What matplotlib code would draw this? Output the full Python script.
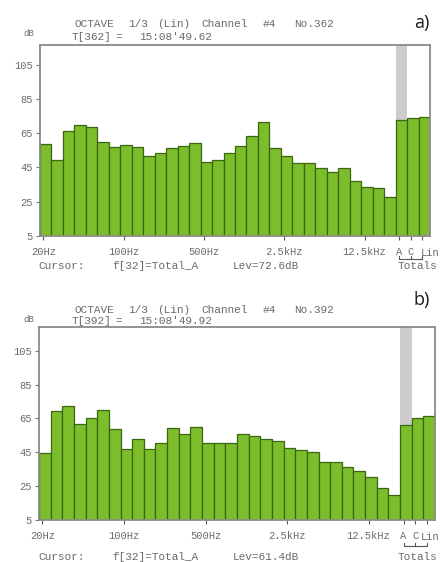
import matplotlib
matplotlib.use("Agg")
import matplotlib.pyplot as plt
import numpy as np

# ------------------------------------------
# DATOS
# ------------------------------------------
bandas = ['20Hz', '25Hz', '31.5Hz', '40Hz', '50Hz', '63Hz', '80Hz', '100Hz', '125Hz',
          '160Hz', '200Hz', '250Hz', '315Hz', '400Hz', '500Hz', '630Hz', '800Hz',
          '1kHz', '1.25kHz', '1.6kHz', '2kHz', '2.5kHz', '3.15kHz', '4kHz', '5kHz',
          '6.3kHz', '8kHz', '10kHz', '12.5kHz', '16kHz', '20kHz', 'A', 'C', 'Lin']

niveles_a = [58.5, 49.3, 66.4, 69.7, 68.4, 59.6, 57.1, 58.0, 57.1, 51.6, 53.6, 56.1,
             57.5, 59.0, 48.3, 49.3, 53.6, 57.5, 63.3, 71.6, 56.1, 51.6, 47.4, 47.4,
             44.5, 42.5, 44.8, 37.1, 33.4, 32.8, 27.9, 72.6, 73.6, 74.6]

niveles_b = [44.4, 69.6, 72.5, 61.8, 65.2, 70.0, 58.6, 46.8, 52.9, 46.8, 50.4, 59.2,
             55.9, 59.8, 50.4, 50.4, 50.4, 55.7, 54.7, 52.7, 51.7, 47.8, 46.4, 45.4,
             39.1, 39.1, 36.2, 34.2, 30.6, 23.7, 19.8, 61.4, 65.2, 66.5]

ticks_x = ['20Hz', '100Hz', '500Hz', '2.5kHz', '12.5kHz', 'A', 'C', 'Lin']
ticks_y = [5, 25, 45, 65, 85, 105]

paneles = [
    dict(letra='a)', numero='362', hora="15:08'49.62", lev='72.6', valores=niveles_a),
    dict(letra='b)', numero='392', hora="15:08'49.92", lev='61.4', valores=niveles_b),
]

# ------------------------------------------
# FIGURA
# ------------------------------------------
W, H = 440, 562
fig = plt.figure(figsize=(W / 100, H / 100), dpi=100)

VERDE = '#7cbd2b'
BORDE = '#3a6610'
GRIS = '#6a6a6a'
MONO = 'Liberation Mono'

# posiciones en pixeles: (izq, der, arriba, abajo, techo_dB)
cajas = [(40, 430, 45, 236, 116.4), (39, 435, 327, 520, 119.0)]


def texto(x, y, s, **kw):
    opciones = dict(family=MONO, fontsize=8, color=GRIS, va='center', ha='center')
    opciones.update(kw)
    fig.text(x / W, 1 - y / H, s, **opciones)


for panel, (izq, der, arr, aba, techo) in zip(paneles, cajas):
    ax = fig.add_axes([izq / W, 1 - aba / H, (der - izq) / W, (aba - arr) / H])
    x = np.arange(len(bandas))
    # cursor sobre Total_A
    ia = bandas.index('A')
    ax.axvspan(ia - 0.5, ia + 0.5, color='#cccccc', zorder=0, lw=0)
    ax.bar(x, panel['valores'], width=1.0, color=VERDE, edgecolor=BORDE,
           linewidth=0.9, zorder=2)
    ax.set_xlim(-0.5, len(bandas) - 0.5)
    ax.set_ylim(5, techo)

    pos = [bandas.index(t) - 0.2 for t in ticks_x]
    ax.set_xticks(pos)
    # "Lin" se pone aparte, pegado al borde derecho
    ax.set_xticklabels(ticks_x[:-1] + [''], family=MONO, fontsize=7.5, color=GRIS)
    ax.set_yticks(ticks_y)
    ax.set_yticklabels([str(v) for v in ticks_y], family=MONO, fontsize=7.5, color=GRIS)
    ax.tick_params(axis='x', length=3, width=0.8, color='#555555', pad=5)
    ax.tick_params(axis='y', length=3, width=0.8, color='#777777', pad=2)
    for lado in ax.spines.values():
        lado.set_color('#8a8a8a')
        lado.set_linewidth(1.3)

    # corchete de totales
    alto = aba - arr
    yb = -(23 if arr < 100 else 26) / alto
    yt = yb + 3 / alto
    trans = ax.get_xaxis_transform()
    xa, xc, xl = pos[-3], pos[-2], pos[-1]
    ax.plot([xa, xa, xl, xl], [yt, yb, yb, yt], color='#555555', lw=0.8,
            transform=trans, clip_on=False)
    ax.plot([xc, xc], [yb, yt], color='#555555', lw=0.8, transform=trans, clip_on=False)

    # textos de cabecera
    if arr < 100:
        y1, y2, ydb, yl, ycur, ytick = 24, 37, 33, 23, 266, 253
    else:
        y1, y2, ydb, yl, ycur, ytick = 310, 321, 320, 300, 557, 537
    texto(439, ytick, ticks_x[-1], ha='right', fontsize=7.5)
    texto(94, y1, 'OCTAVE')
    texto(138, y1, '1/3')
    texto(174, y1, '(Lin)')
    texto(225, y1, 'Channel')
    texto(269, y1, '#4')
    texto(314, y1, 'No.' + panel['numero'])
    texto(91, y2, 'T[' + panel['numero'] + ']')
    texto(119, y2, '=')
    texto(176, y2, panel['hora'])
    texto(29, ydb, 'dB', fontsize=6.5)
    texto(38, ycur, 'Cursor:', ha='left')
    texto(155, ycur, 'f[32]=Total_A')
    texto(266, ycur, 'Lev=' + panel['lev'] + 'dB')
    texto(417, ycur, 'Totals')
    fig.text(422 / W, 1 - yl / H, panel['letra'], family='Open Sans', fontsize=13,
             color='#1a1a1a', ha='center', va='center')

fig.savefig('out.png', dpi=100)
